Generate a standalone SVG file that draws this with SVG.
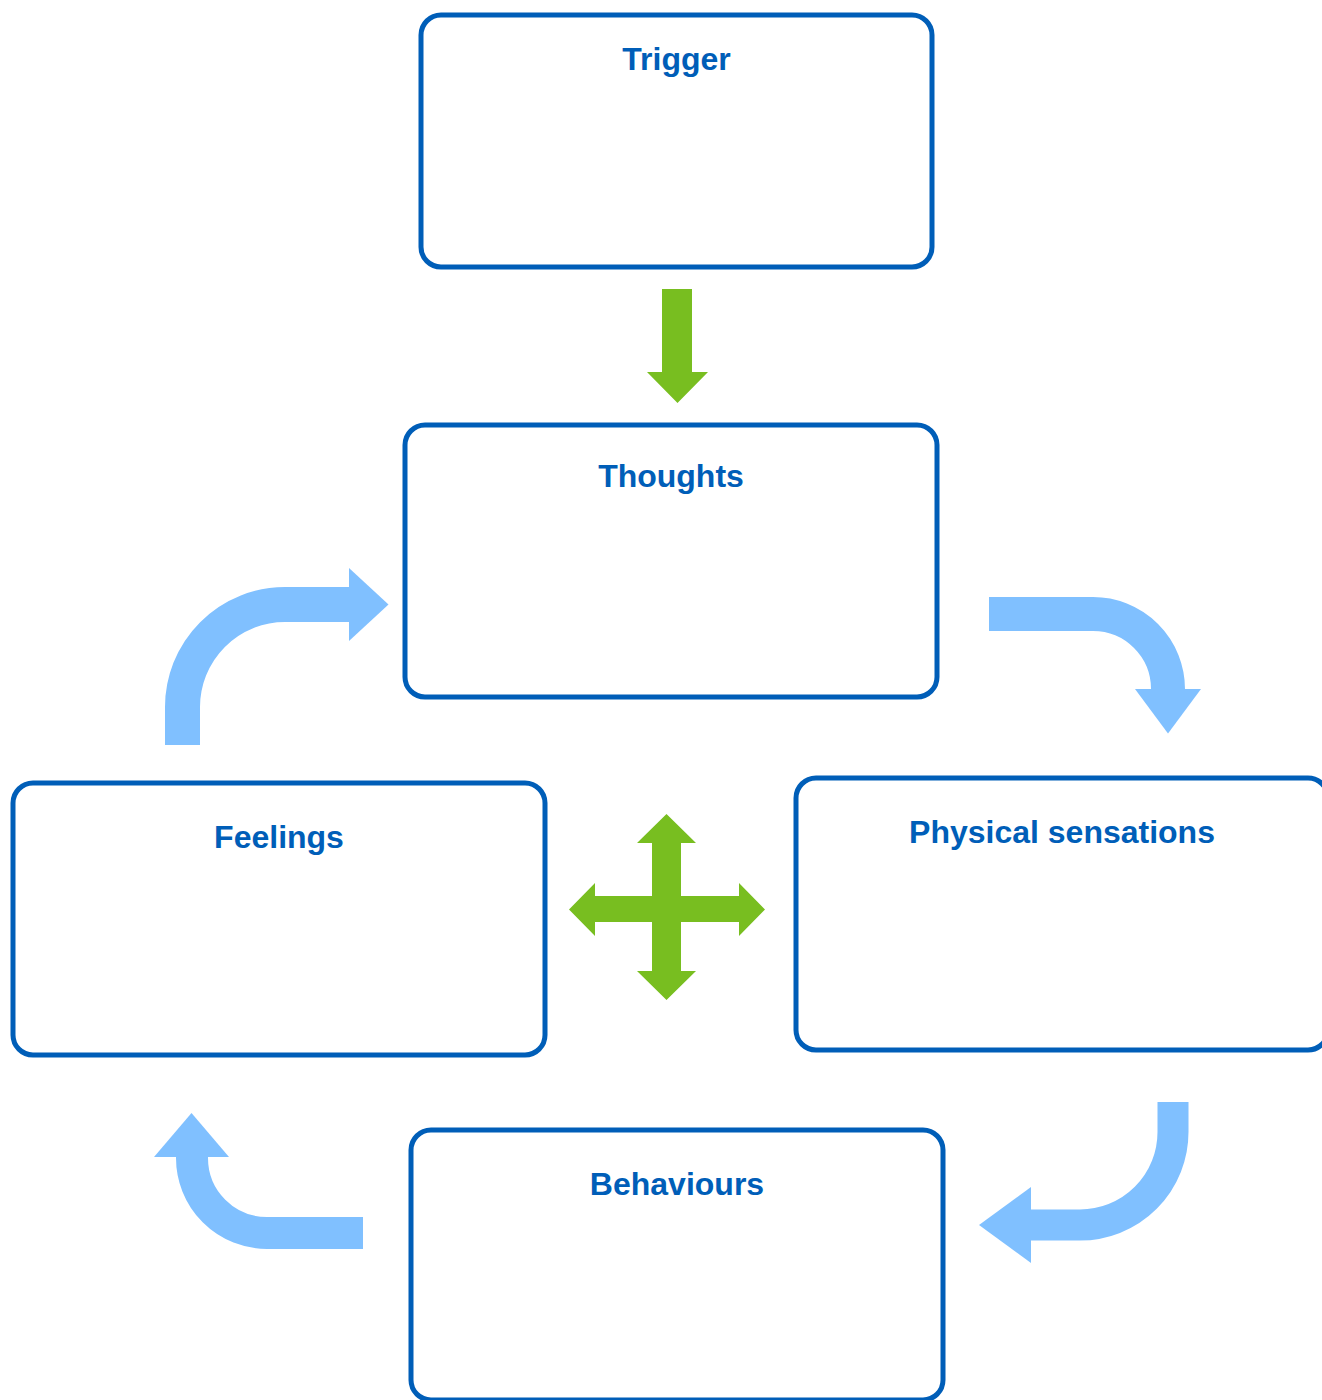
<svg xmlns="http://www.w3.org/2000/svg" width="1322" height="1400" viewBox="0 0 1322 1400">
<style>
.box{fill:#fff;stroke:#005EB8;stroke-width:5}
.title{font-family:"Liberation Sans",Arial,sans-serif;font-weight:bold;font-size:32px;fill:#005EB8;text-anchor:middle}
.curve{fill:none;stroke:#80C0FF}
.blue{fill:#80C0FF}
.green{fill:#78BE20}
</style>
<rect width="1322" height="1400" fill="#fff"/>
<g id="trigger"><rect class="box" x="421" y="15" width="511" height="252" rx="20"/><text class="title" x="676.5" y="70">Trigger</text></g>
<g id="thoughts"><rect class="box" x="405" y="425" width="532" height="272" rx="20"/><text class="title" x="671" y="487">Thoughts</text></g>
<g id="feelings"><rect class="box" x="13" y="783" width="532" height="272" rx="20"/><text class="title" x="279" y="848">Feelings</text></g>
<g id="physical"><rect class="box" x="796" y="778" width="532" height="272" rx="20"/><text class="title" x="1062" y="843">Physical sensations</text></g>
<g id="behaviours"><rect class="box" x="411" y="1130" width="532" height="270" rx="20"/><text class="title" x="677" y="1195">Behaviours</text></g>
<g id="connectors">
<polygon class="green" points="662,289 692,289 692,372 708,372 677.5,403 647,372 662,372"/>
<polygon class="green" points="666.5,814 696,843 681,843 681,896 739,896 739,883 765,909.5 739,936 739,922 681,922 681,971 696,971 666.5,1000 637,971 652,971 652,922 595,922 595,936 569,909.5 595,883 595,896 652,896 652,843 637,843"/>
<path class="curve" stroke-width="35" d="M182.5,745 V707 A102.5,102.5 0 0 1 285,604.5 H350"/>
<polygon class="blue" points="349,568 388.5,604.5 349,641"/>
<path class="curve" stroke-width="34" d="M989,614 H1093 A75,75 0 0 1 1168,689 V690"/>
<polygon class="blue" points="1135,689 1201,689 1168,733.5"/>
<path class="curve" stroke-width="31" d="M1173,1102 V1132 A93,93 0 0 1 1080,1225 H1030"/>
<polygon class="blue" points="1031,1187 979,1225 1031,1263"/>
<path class="curve" stroke-width="32" d="M363,1233 H267 A75,75 0 0 1 192,1158 V1156"/>
<polygon class="blue" points="154,1157 229,1157 191.5,1113"/>
</g>
</svg>
